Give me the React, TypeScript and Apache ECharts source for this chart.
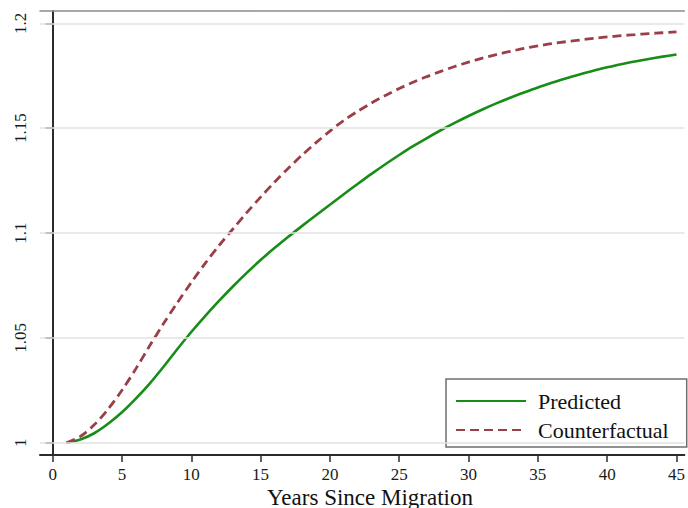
import React, { useEffect, useRef } from 'react';
import * as echarts from 'echarts';

const years = [1, 2, 3, 4, 5, 6, 7, 8, 9, 10, 11, 12, 13, 14, 15, 16, 17, 18, 19, 20, 21, 22, 23, 24, 25, 26, 27, 28, 29, 30, 31, 32, 33, 34, 35, 36, 37, 38, 39, 40, 41, 42, 43, 44, 45];
const predicted = [1.0000, 1.0015, 1.0045, 1.0090, 1.0145, 1.0210, 1.0282, 1.0362, 1.0447, 1.0528, 1.0604, 1.0676, 1.0745, 1.0810, 1.0871, 1.0928, 1.0982, 1.1034, 1.1085, 1.1135, 1.1185, 1.1234, 1.1282, 1.1328, 1.1372, 1.1414, 1.1453, 1.1490, 1.1525, 1.1558, 1.1589, 1.1618, 1.1645, 1.1670, 1.1694, 1.1716, 1.1737, 1.1756, 1.1774, 1.1790, 1.1805, 1.1818, 1.1830, 1.1841, 1.1851];
const counterfactual = [1.0000, 1.0030, 1.0085, 1.0160, 1.0250, 1.0352, 1.0462, 1.0568, 1.0668, 1.0764, 1.0855, 1.0940, 1.1019, 1.1097, 1.1171, 1.1242, 1.1309, 1.1372, 1.1431, 1.1486, 1.1537, 1.1580, 1.1620, 1.1656, 1.1689, 1.1719, 1.1746, 1.1771, 1.1794, 1.1815, 1.1834, 1.1851, 1.1866, 1.1880, 1.1892, 1.1903, 1.1912, 1.1920, 1.1928, 1.1935, 1.1941, 1.1946, 1.1951, 1.1955, 1.1959];
const xTicks = [0, 5, 10, 15, 20, 25, 30, 35, 40, 45];
const yTicks = [1, 1.05, 1.1, 1.15, 1.2];
const seriesNames = ['Predicted', 'Counterfactual'];
const xTitle = 'Years Since Migration';

const SERIF = '"Liberation Serif", "Times New Roman", serif';

export default function App() {
  const ref = useRef<HTMLDivElement>(null);
  useEffect(() => {
    const chart = echarts.init(ref.current!, null, { renderer: 'svg' });
    chart.setOption({
      animation: false,
      grid: {
        left: 40,
        top: 11,
        right: 0,
        bottom: 53,
        show: false,
      },
      xAxis: [
        {
          type: 'value',
          min: -0.911,
          max: 45.57,
          axisLine: { show: true, lineStyle: { color: '#2b2b2b', width: 2 } },
          axisTick: { show: true, customValues: xTicks, length: 7, lineStyle: { color: '#2b2b2b', width: 1.5 } },
          axisLabel: {
            customValues: xTicks,
            margin: 11,
            fontFamily: SERIF,
            fontSize: 17,
            color: '#1a1a1a',
          },
          splitLine: { show: false },
        },
        {
          type: 'value',
          position: 'top',
          min: -0.911,
          max: 45.57,
          axisLine: { show: true, lineStyle: { color: '#8c8c8c', width: 1.5 } },
          axisTick: { show: false },
          axisLabel: { show: false },
          splitLine: { show: false },
        },
      ],
      yAxis: {
        type: 'value',
        min: 0.99413,
        max: 1.20587,
        axisLine: { show: true, lineStyle: { color: '#2b2b2b', width: 2 } },
        axisTick: { show: true, customValues: yTicks, length: 7, lineStyle: { color: '#2b2b2b', width: 1.5 } },
        axisLabel: {
          customValues: yTicks,
          rotate: 90,
          margin: 11,
          fontFamily: SERIF,
          fontSize: 17,
          color: '#1a1a1a',
        },
        splitLine: { show: false },
      },
      legend: {
        data: seriesNames,
        orient: 'vertical',
        left: 446,
        top: 379,
        itemWidth: 70,
        itemHeight: 14,
        itemGap: 7,
        padding: [11, 18, 6, 9],
        borderColor: '#6e6e6e',
        borderWidth: 1.5,
        backgroundColor: '#fff',
        itemStyle: { opacity: 0 },
        textStyle: {
          fontFamily: SERIF,
          fontSize: 22,
          color: '#111',
          padding: [0, 0, 0, 7],
        },
      },
      graphic: [
        {
          type: 'text',
          x: 370,
          y: 497,
          style: {
            text: xTitle,
            fontFamily: SERIF,
            fontSize: 23,
            fill: '#111',
            align: 'center',
            verticalAlign: 'middle',
          },
        },
      ],
      series: [
        {
          name: 'grid',
          type: 'line',
          data: [],
          z: 1,
          silent: true,
          markLine: {
            silent: true,
            symbol: 'none',
            label: { show: false },
            lineStyle: { color: '#e2e2e2', width: 1.5, type: 'solid' },
            data: yTicks.map((v) => ({ yAxis: v })),
          },
        },
        {
          name: seriesNames[0],
          type: 'line',
          z: 3,
          data: years.map((x, i) => [x, predicted[i]]),
          smooth: 0.3,
          symbol: 'none',
          showSymbol: false,
          lineStyle: { color: '#178d17', width: 2.6, type: 'solid' },
          itemStyle: { color: '#178d17' },
        },
        {
          name: seriesNames[1],
          type: 'line',
          z: 3,
          data: years.map((x, i) => [x, counterfactual[i]]),
          smooth: 0.3,
          symbol: 'none',
          showSymbol: false,
          lineStyle: { color: '#9a3f47', width: 2.8, type: [9, 5] },
          itemStyle: { color: '#9a3f47' },
        },
      ],
    });
    return () => chart.dispose();
  }, []);
  return <div ref={ref} style={{ position: 'absolute', left: 0, top: 0, width: 688, height: 508 }} />;
}
